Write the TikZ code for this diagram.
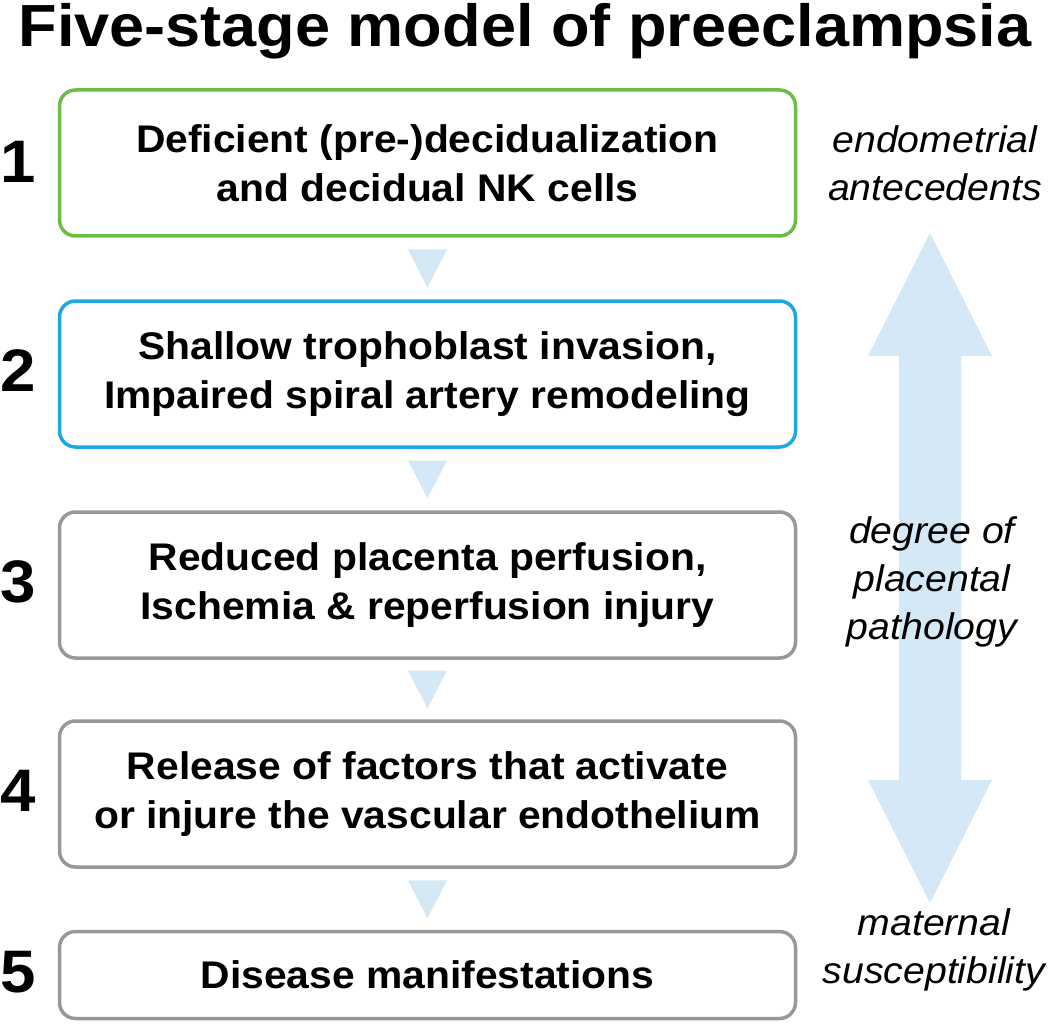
\documentclass[tikz,border=0pt]{standalone}
\usepackage{fontspec}
\setmainfont{Liberation Sans}[FakeStretch=1.06]
\usetikzlibrary{calc}
\definecolor{stagegreen}{RGB}{108,189,69}
\definecolor{stageblue}{RGB}{31,167,225}
\definecolor{stagegray}{RGB}{152,152,152}
\definecolor{paleblue}{RGB}{212,232,245}
\tikzset{
    stagebox/.style={draw=stagegray, line width=3.5pt, rounded corners=16pt,
        minimum width=736pt, minimum height=146pt, align=center, inner sep=0pt,
        font=\bfseries\fontsize{38.5}{49}\selectfont},
    stagenum/.style={font=\bfseries\fontsize{60}{60}\selectfont, inner sep=0pt},
    sidenote/.style={align=center, inner sep=0pt, font=\itshape\fontsize{37}{48}\selectfont}
}
\begin{document}
\begin{tikzpicture}[x=1pt, y=-1pt]
    \useasboundingbox (0,0) rectangle (1050,1027);
    \node[anchor=base, inner sep=0pt, font=\bfseries\fontsize{59.5}{60}\selectfont] (title) at (525,47) {Five-stage model of preeclampsia};
    % stages
    \node[stagebox, draw=stagegreen] (s1) at (427.5,163) {Deficient (pre-)decidualization\\and decidual NK cells};
    \node[stagebox, draw=stageblue] (s2) at (427.5,374) {Shallow trophoblast invasion,\\Impaired spiral artery remodeling};
    \node[stagebox] (s3) at (427.5,585) {Reduced placenta perfusion,\\Ischemia \& reperfusion injury};
    \node[stagebox] (s4) at (427.5,794) {Release of factors that activate\\or injure the vascular endothelium};
    \node[stagebox, minimum height=87pt] (s5) at (427.5,975) {Disease manifestations};
    \foreach \i/\y in {1/162,2/371,3/582,4/791,5/972}{
        \node[stagenum] (n\i) at (18,\y) {\i};
    }
    \foreach \a/\b in {s1/s2,s2/s3,s3/s4,s4/s5}{
        \fill[paleblue] ($(\a.south)!0.5!(\b.north)$) ++(-19.5,-19) -- ++(39,0) -- ++(-19.5,38) -- cycle;
    }
    % double arrow
    \fill[paleblue] (930,233) -- (992,356) -- (961,356) -- (961,780) -- (992,780) -- (930,903)
        -- (868,780) -- (899,780) -- (899,356) -- (868,356) -- cycle;
    \node[sidenote] (top) at (935,163) {endometrial\\antecedents};
    \node[sidenote] (mid) at (932,582) {degree of\\placental\\pathology};
    \node[sidenote] (bot) at (934,950) {maternal\\susceptibility};
\end{tikzpicture}
\end{document}
